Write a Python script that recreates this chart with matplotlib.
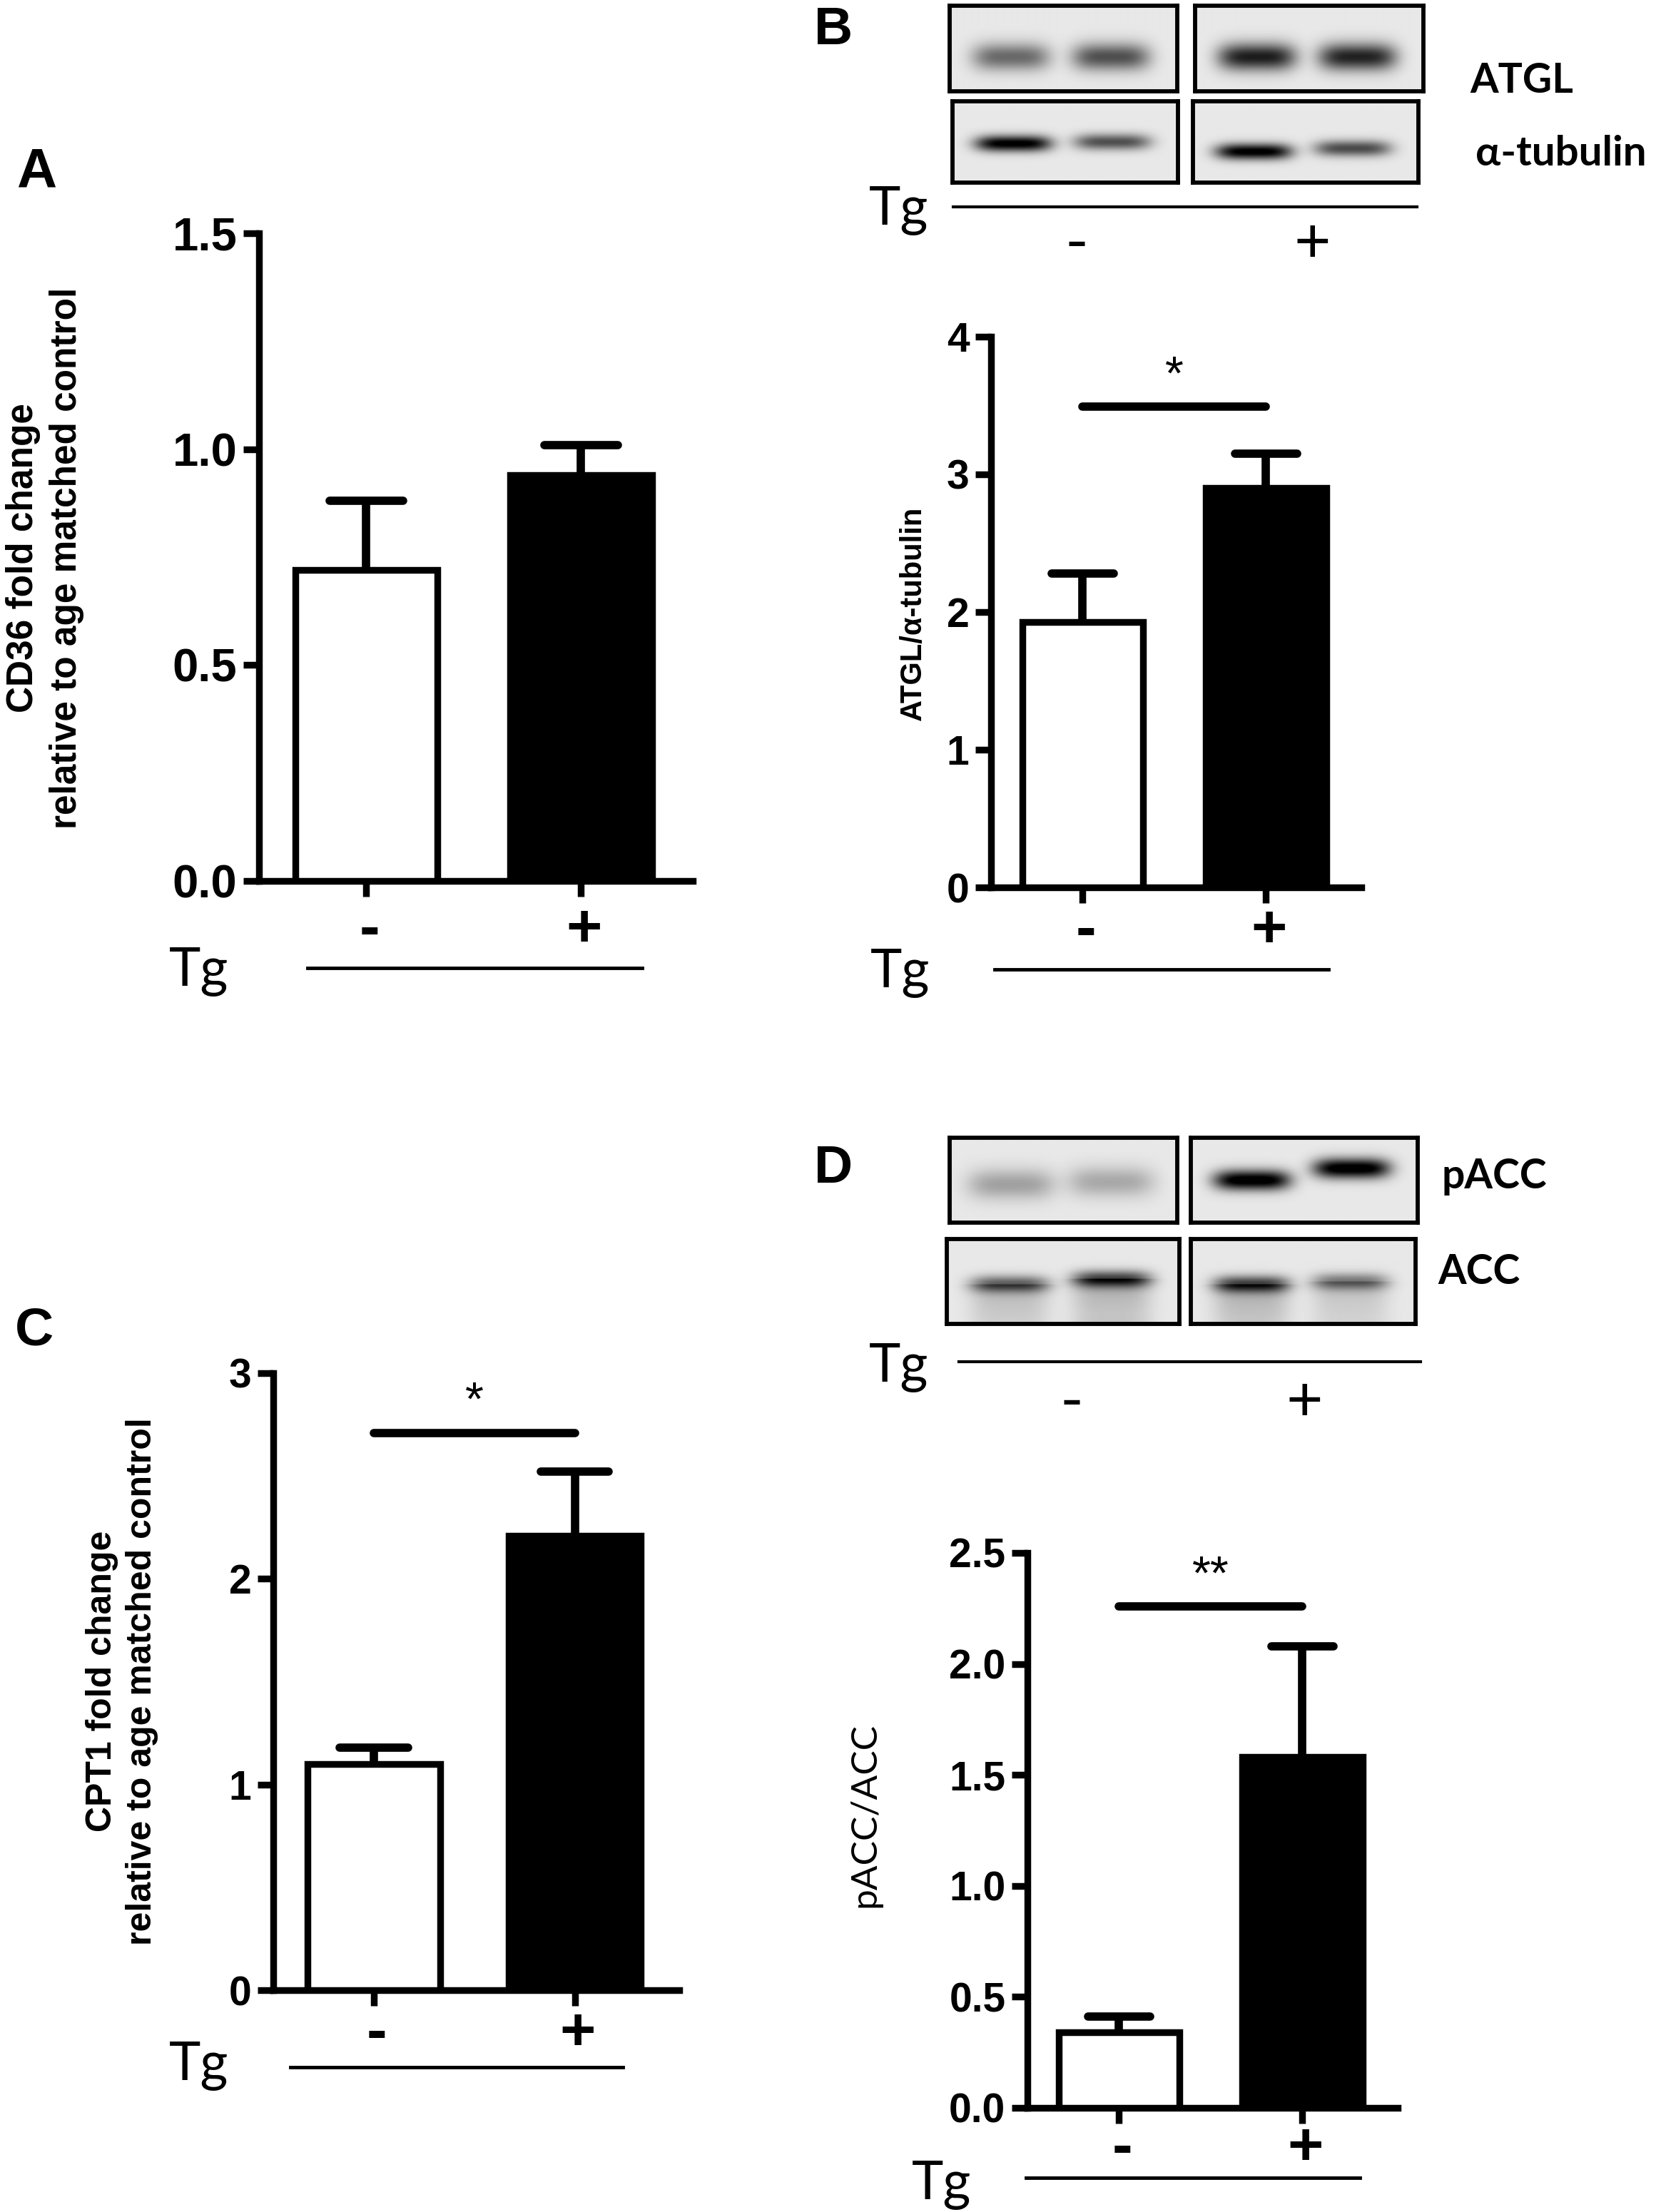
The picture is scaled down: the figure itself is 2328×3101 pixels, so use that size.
import numpy as np
import matplotlib
matplotlib.use("Agg")
import matplotlib.pyplot as plt
from matplotlib.lines import Line2D

# ---------------- data ----------------
groups = ['-', '+']
cd36_mean = [0.72, 0.94]
cd36_sem = [0.16, 0.07]
atgl_mean = [1.93, 2.90]
atgl_sem = [0.35, 0.25]
cpt1_mean = [1.10, 2.21]
cpt1_sem = [0.08, 0.31]
pacc_mean = [0.34, 1.58]
pacc_sem = [0.07, 0.50]

atgl_sig = 3.49
cpt1_sig = 2.71
pacc_sig = 2.26
atgl_star = '*'
cpt1_star = '*'
pacc_star = '**'

cd36_ticks = [0.0, 0.5, 1.0, 1.5]
atgl_ticks = [0, 1, 2, 3, 4]
cpt1_ticks = [0, 1, 2, 3]
pacc_ticks = [0.0, 0.5, 1.0, 1.5, 2.0, 2.5]

# western blot band darkness (lane order: -, -, +, +)
atgl_band = [0.5, 0.6, 0.8, 0.78]
tubulin_band = [0.95, 0.6, 0.95, 0.62]
pacc_band = [0.28, 0.25, 1.0, 1.0]
acc_band = [0.55, 0.68, 0.68, 0.45]

# ---------------- layout helpers ----------------
W, H = 2328, 3101
fig = plt.figure(figsize=(W / 100, H / 100), dpi=100)
plt.rcParams['font.family'] = ['Liberation Sans', 'DejaVu Sans']
ARIAL = ['Liberation Sans', 'DejaVu Sans']
CALIB = ['Lato', 'DejaVu Sans']


def add_ax(x0, y0, x1, y1):
    return fig.add_axes([x0 / W, 1 - y1 / H, (x1 - x0) / W, (y1 - y0) / H])


def ftext(x, y, s, **kw):
    fig.text(x / W, 1 - y / H, s, **kw)


def fline(x0, x1, y, lw=3.5):
    fig.add_artist(Line2D([x0 / W, x1 / W], [1 - y / H, 1 - y / H],
                          transform=fig.transFigure, lw=lw, color='black'))


LW = 6.8      # axis / bar outline
ELW = 8.4     # error bars and significance lines
BAR_W = 0.66
CAP_HALF = 0.17


def bar_panel(box, ticks, fmt, means, sems, tick_fs, pm_base_px,
              sig=None, stars=None):
    x0, y0, x1, y1 = box
    ax = add_ax(x0, y0, x1, y1)
    ax.set_xlim(-0.5, 1.52)
    ax.set_ylim(0, ticks[-1])
    xs = np.arange(len(groups))
    ax.bar(xs, means, width=BAR_W, color=['white', 'black'],
           edgecolor='black', linewidth=LW, zorder=3)
    tops = np.array(means) + np.array(sems)
    ax.vlines(xs, means, tops, colors='black', linewidth=ELW, zorder=2)
    caps = ax.hlines(tops, xs - CAP_HALF, xs + CAP_HALF, colors='black',
                     linewidth=ELW, zorder=2)
    caps.set_capstyle('round')
    for s in ['top', 'right']:
        ax.spines[s].set_visible(False)
    for s in ['left', 'bottom']:
        ax.spines[s].set_linewidth(LW)
        ax.spines[s].set_capstyle('projecting')
    ax.set_yticks(ticks)
    ax.set_yticklabels([fmt.format(t) for t in ticks], fontsize=tick_fs,
                       fontweight='bold', family=ARIAL)
    ax.tick_params(axis='y', length=16, width=LW, pad=6)
    ax.set_xticks(xs)
    ax.set_xticklabels([])
    ax.tick_params(axis='x', length=16, width=LW)
    for i, g in enumerate(groups):
        off = pm_base_px / 1.389
        ax.annotate(g, xy=(i, 0), xycoords=('data', 'axes fraction'),
                    xytext=(3, -off), textcoords='offset points',
                    ha='center', va='baseline', fontsize=62,
                    fontweight='bold', family=ARIAL, annotation_clip=False)
    if sig is not None:
        ax.plot([0, 1], [sig, sig], color='black', lw=ELW,
                solid_capstyle='round', zorder=3, clip_on=False)
        ax.annotate(stars, xy=(0.5, sig), xytext=(0, 30),
                    textcoords='offset points', ha='center', va='center',
                    fontsize=48, family=ARIAL, annotation_clip=False)
    return ax


def blot_box(box, darkness, cys, sy, hw=0.17, tail=False):
    x0, y0, x1, y1 = box
    ax = add_ax(x0, y0, x1, y1)
    ny, nx = 120, 320
    yy, xx = np.mgrid[0:1:ny * 1j, 0:1:nx * 1j]
    img = np.full((ny, nx), 0.91)
    for cx, cy, d in zip([0.27, 0.71], cys, darkness):
        px = np.exp(-np.abs((xx - cx) / hw) ** 4)
        img = img - d * px * np.exp(-((yy - cy) / sy) ** 2)
        if tail:
            below = np.clip((yy - cy) / 0.4, 0, 1)
            img = img - 0.35 * d * px * (yy > cy) * (1 - 0.4 * below)
    ax.imshow(np.clip(img, 0, 1), cmap='gray', vmin=0, vmax=1,
              extent=(0, 1, 1, 0), aspect='auto', interpolation='bilinear')
    ax.set_xticks([])
    ax.set_yticks([])
    for s in ax.spines.values():
        s.set_linewidth(4.2)
    return ax


# ---------------- Panel A ----------------
bar_panel((363, 327, 971, 1235), cd36_ticks, '{:.1f}', cd36_mean, cd36_sem,
          47, 92)
ftext(63, 782, 'CD36 fold change\nrelative to age matched control',
      rotation=90, ha='center', va='center', multialignment='center',
      fontsize=37, fontweight='bold', family=ARIAL, linespacing=1.3)
ftext(237, 1382, 'Tg', ha='left', va='baseline', fontsize=54, family=CALIB)
fline(431, 900, 1357)
ftext(51, 242, 'A', ha='center', va='center', fontsize=56, fontweight='bold',
      family=ARIAL)

# ---------------- Panel B ----------------
blot_box((1331, 8, 1650, 128), atgl_band[:2], [0.6, 0.6], 0.16)
blot_box((1675, 8, 1995, 128), atgl_band[2:], [0.6, 0.6], 0.16)
blot_box((1335, 142, 1651, 256), tubulin_band[:2], [0.52, 0.5], 0.1)
blot_box((1672, 142, 1988, 256), tubulin_band[2:], [0.62, 0.58], 0.1)
ftext(2060, 114, 'ATGL', ha='left', va='center', fontsize=41,
      fontweight='bold', family=CALIB)
ftext(2068, 216, 'α-tubulin', ha='left', va='center', fontsize=42,
      fontweight='bold', family=CALIB)
ftext(1218, 315, 'Tg', ha='left', va='baseline', fontsize=54, family=CALIB)
fline(1336, 1986, 290, lw=3)
ftext(1509, 368, '-', ha='center', va='baseline', fontsize=64, family=CALIB)
ftext(1839, 368, '+', ha='center', va='baseline', fontsize=64, family=CALIB)

bar_panel((1389, 472, 1908, 1244), atgl_ticks, '{:d}', atgl_mean, atgl_sem,
          41, 84, sig=atgl_sig, stars=atgl_star)
ftext(1280, 860, 'ATGL/α-tubulin', rotation=90, ha='center', va='center',
      fontsize=30, fontweight='bold', family=ARIAL)
ftext(1220, 1384, 'Tg', ha='left', va='baseline', fontsize=54, family=CALIB)
fline(1394, 1862, 1359)
ftext(1168, 43, 'B', ha='center', va='center', fontsize=54, fontweight='bold',
      family=ARIAL)

# ---------------- Panel C ----------------
bar_panel((383, 1925, 952, 2790), cpt1_ticks, '{:d}', cpt1_mean, cpt1_sem,
          41, 84, sig=cpt1_sig, stars=cpt1_star)
ftext(171, 2357, 'CPT1 fold change\nrelative to age matched control',
      rotation=90, ha='center', va='center', multialignment='center',
      fontsize=36, fontweight='bold', family=ARIAL, linespacing=1.3)
ftext(237, 2916, 'Tg', ha='left', va='baseline', fontsize=54, family=CALIB)
fline(407, 873, 2898)
ftext(48, 1866, 'C', ha='center', va='center', fontsize=54, fontweight='bold',
      family=ARIAL)

# ---------------- Panel D ----------------
blot_box((1331, 1595, 1650, 1714), pacc_band[:2], [0.55, 0.52], 0.18, hw=0.19)
blot_box((1669, 1595, 1987, 1714), pacc_band[2:], [0.5, 0.36], 0.12)
blot_box((1327, 1737, 1653, 1856), acc_band[:2], [0.53, 0.47], 0.1, tail=True)
blot_box((1669, 1737, 1984, 1856), acc_band[2:], [0.53, 0.5], 0.1, tail=True)
ftext(2021, 1650, 'pACC', ha='left', va='center', fontsize=41,
      fontweight='bold', family=CALIB)
ftext(2015, 1783, 'ACC', ha='left', va='center', fontsize=41,
      fontweight='bold', family=CALIB)
ftext(1218, 1937, 'Tg', ha='left', va='baseline', fontsize=54, family=CALIB)
fline(1344, 1991, 1909, lw=3)
ftext(1502, 1992, '-', ha='center', va='baseline', fontsize=64, family=CALIB)
ftext(1828, 1992, '+', ha='center', va='baseline', fontsize=64, family=CALIB)

bar_panel((1440, 2177, 1959, 2955), pacc_ticks, '{:.1f}', pacc_mean, pacc_sem,
          41, 80, sig=pacc_sig, stars=pacc_star)
ftext(1212, 2545, 'pACC/ACC', rotation=90, ha='center', va='center',
      fontsize=37, family=CALIB)
ftext(1278, 3083, 'Tg', ha='left', va='baseline', fontsize=54, family=CALIB)
fline(1438, 1906, 3053)
ftext(1168, 1638, 'D', ha='center', va='center', fontsize=54, fontweight='bold',
      family=ARIAL)

fig.savefig('out.png', dpi=100, facecolor='white')
